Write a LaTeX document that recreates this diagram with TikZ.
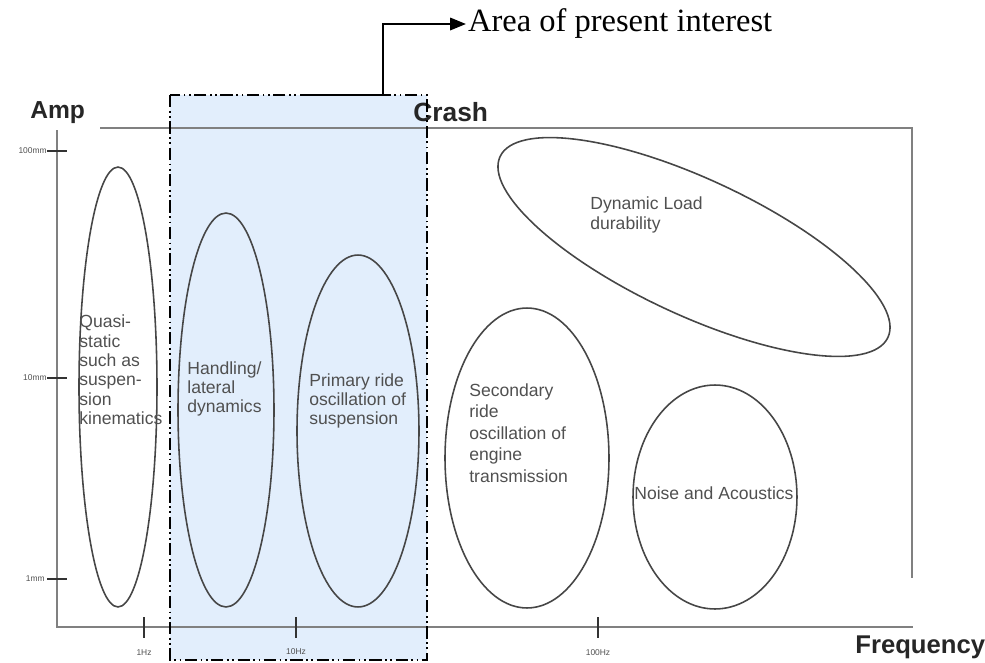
\documentclass[tikz,border=0pt]{standalone}
\usepackage{fontspec}
\setmainfont{Liberation Sans}
\newfontfamily\serifface{Liberation Serif}
\usepackage{tikz}
\usetikzlibrary{arrows.meta}
\usetikzlibrary{shapes,positioning}
\definecolor{zoneblue}{RGB}{226,238,252}
\definecolor{axisgray}{RGB}{128,128,128}
\definecolor{curvegray}{RGB}{70,70,70}
\definecolor{textgray}{RGB}{80,80,80}
\tikzset{>={Triangle[length=9pt,width=7pt]},
  regime/.style={draw=curvegray, line width=0.9pt, ellipse, inner sep=0pt},
  regtext/.style={text=textgray, align=left, inner sep=0pt,
    font=\fontsize{10}{11}\selectfont},
  axlabel/.style={text=black!85, inner sep=0pt,
    font=\fontsize{14}{16}\selectfont\bfseries},
  ticklabel/.style={text=textgray, inner sep=0pt,
    font=\fontsize{4.8}{5}\selectfont}}

\begin{document}
\begin{tikzpicture}[x=0.02cm,y=-0.02cm]

  \useasboundingbox (0,0) rectangle (985,663);

  \fill [zoneblue] (170,95) rectangle (427,660);

  \draw [axisgray, line width=0.8pt] (57,130) -- (57,627) -- (913,627);
  \draw [axisgray, line width=0.8pt] (100,128) -- (912,128) -- (912,578);

  \draw [black!80, line width=0.8pt] (47,151) -- (67,151);
  \draw [black!80, line width=0.8pt] (47,378) -- (67,378);
  \draw [black!80, line width=0.8pt] (47,579) -- (67,579);
  \draw [black!80, line width=0.8pt] (144,617) -- (144,638);
  \draw [black!80, line width=0.8pt] (296,617) -- (296,638);
  \draw [black!80, line width=0.8pt] (598,617) -- (598,638);

  \node [ticklabel, anchor=east] (mm100) at (47,151) {100mm};
  \node [ticklabel, anchor=east] (mm10) at (47,378) {10mm};
  \node [ticklabel, anchor=east] (mm1) at (45,579) {1mm};
  \node [ticklabel] (hz1) at (144,653) {1Hz};
  \node [ticklabel] (hz10) at (296,652) {10Hz};
  \node [ticklabel] (hz100) at (598,653) {100Hz};

  \node [axlabel, anchor=base west] (amp) at (30,118) {Amp};
  \node [axlabel, anchor=base west, font=\fontsize{15}{17}\selectfont\bfseries] (crash) at (413,121) {Crash};
  \node [axlabel, anchor=base west, font=\fontsize{14.6}{17}\selectfont\bfseries] (freq) at (855,653) {Frequency};

  % regimes
  \node [regime, minimum width=1.56cm, minimum height=8.8cm] (quasi) at (118,387) {};
  \node [regime, minimum width=1.92cm, minimum height=7.88cm] (handling) at (226,410) {};
  \node [regime, minimum width=2.44cm, minimum height=7.04cm] (primary) at (358,431) {};
  \node [regime, minimum width=3.28cm, minimum height=6.0cm] (secondary) at (527,458) {};
  \node [regime, minimum width=3.28cm, minimum height=4.48cm] (noise) at (715,497) {};
  \node [regime, minimum width=8.56cm, minimum height=2.72cm, rotate=-25] (dynload) at (694,247) {};

  \node [regtext, anchor=west] (quasitxt) at (79,370) {Quasi-\\static\\such as\\suspen-\\sion\\kinematics};
  \node [regtext, anchor=west] (handtxt) at (187,389) {Handling/\\lateral\\dynamics};
  \node [regtext, anchor=west] (primtxt) at (309,401) {Primary ride\\oscillation of\\suspension};
  \node [regtext, anchor=west, font=\fontsize{10}{12.3}\selectfont] (sectxt) at (469,433) {Secondary\\ride\\oscillation of\\engine\\transmission};
  \node [regtext, anchor=west] (noisetxt) at (634,493) {Noise and Acoustics};
  \node [regtext, anchor=west] (dyntxt) at (590,215) {Dynamic Load\\durability};

  \draw [black, line width=1.1pt, dash pattern=on 7pt off 2pt on 1pt off 2pt on 1pt off 2pt] (170,95) rectangle (427,660);

  \coordinate (zonetop) at (303,95);
  \node [anchor=west, inner sep=1pt, font=\serifface\fontsize{18.5}{20}\selectfont] (interest) at (466,24) {Area of present interest};
  \draw [->, line width=1.3pt] (zonetop) -- (383,95) |- (interest.west);

\end{tikzpicture}
\end{document}
